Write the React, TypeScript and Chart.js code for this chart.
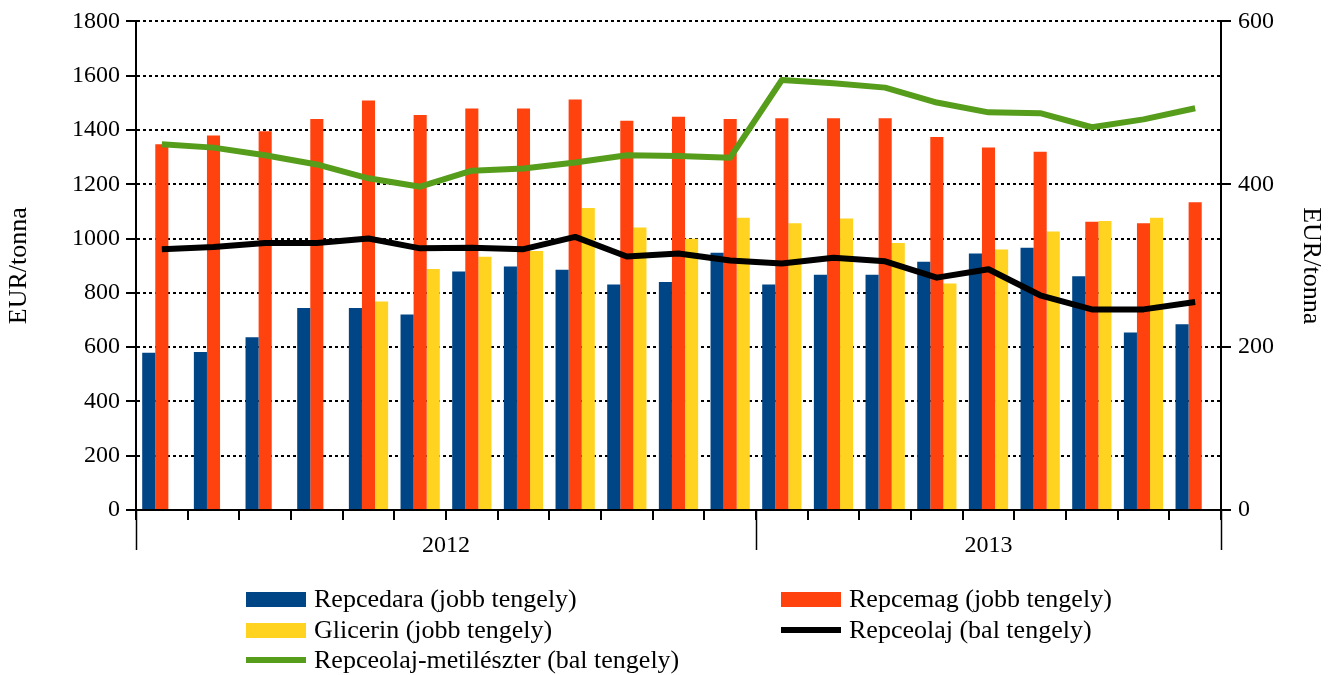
import React, { useEffect, useRef } from 'react';
import { Chart, registerables } from 'chart.js';

Chart.register(...registerables);

const categories = [
  '2012-01', '2012-02', '2012-03', '2012-04', '2012-05', '2012-06',
  '2012-07', '2012-08', '2012-09', '2012-10', '2012-11', '2012-12',
  '2013-01', '2013-02', '2013-03', '2013-04', '2013-05', '2013-06',
  '2013-07', '2013-08', '2013-09',
];
const yearLabels = ['2012', '2013'];
const monthsPerYear = [12, 9];

// right axis (jobb tengely)
const repcedara = [193, 194, 212, 248, 248, 240, 293, 299, 295, 277, 280, 316, 277, 289, 289, 305, 315, 322, 287, 218, 228];
const repcemag = [449, 460, 465, 480, 503, 485, 493, 493, 504, 478, 483, 480, 481, 481, 481, 458, 445, 440, 354, 352, 378];
const glicerin = [null, null, null, null, 256, 296, 311, 318, 371, 347, 333, 359, 352, 358, 328, 278, 320, 342, 355, 359, null];
// left axis (bal tengely)
const repceolaj = [961, 969, 984, 984, 1000, 964, 966, 961, 1006, 934, 945, 919, 908, 929, 916, 856, 887, 791, 739, 739, 766];
const rme = [1347, 1335, 1307, 1273, 1222, 1191, 1250, 1258, 1280, 1307, 1304, 1298, 1584, 1572, 1556, 1501, 1465, 1462, 1410, 1439, 1480];

const leftTicks = { min: 0, max: 1800, step: 200 };
const rightTicks = { min: 0, max: 600, step: 200 };

const FONT = '"Liberation Serif", "Times New Roman", serif';

const legendItems = [
  { label: 'Repcedara (jobb tengely)', color: '#004586', kind: 'box', col: 0, row: 0 },
  { label: 'Repcemag (jobb tengely)', color: '#ff420e', kind: 'box', col: 1, row: 0 },
  { label: 'Glicerin (jobb tengely)', color: '#ffd320', kind: 'box', col: 0, row: 1 },
  { label: 'Repceolaj (bal tengely)', color: '#000000', kind: 'line', col: 1, row: 1 },
  { label: 'Repceolaj-metilészter (bal tengely)', color: '#579d1c', kind: 'line', col: 0, row: 2 },
];

export default function App() {
  const ref = useRef<HTMLCanvasElement>(null);

  useEffect(() => {
    const yearPlugin = {
      id: 'yearLabels',
      afterDraw(chart: any) {
        const x = chart.scales.x;
        const ctx = chart.ctx;
        const area = chart.chartArea;
        const step = x.getPixelForValue(1) - x.getPixelForValue(0);
        const bounds: number[] = [0];
        let acc = 0;
        monthsPerYear.forEach((n) => { acc += n; bounds.push(acc); });
        ctx.save();
        ctx.strokeStyle = '#000';
        ctx.lineWidth = 1.5;
        bounds.forEach((b) => {
          const px = Math.round(x.getPixelForValue(b) - step / 2) + 0.5;
          ctx.beginPath();
          ctx.moveTo(px, area.bottom);
          ctx.lineTo(px, area.bottom + 40);
          ctx.stroke();
        });
        ctx.fillStyle = '#000';
        ctx.font = '24px ' + FONT;
        ctx.textAlign = 'center';
        ctx.textBaseline = 'middle';
        yearLabels.forEach((lab, i) => {
          const l = x.getPixelForValue(bounds[i]) - step / 2;
          const r = x.getPixelForValue(bounds[i + 1]) - step / 2;
          ctx.fillText(lab, (l + r) / 2, area.bottom + 36);
        });
        ctx.restore();
      },
    };

    const fmt = (v: any) => String(v);

    const chart = new Chart(ref.current!, {
      type: 'bar',
      data: {
        labels: categories,
        datasets: [
          { type: 'line', label: 'Repceolaj-metilészter (bal tengely)', data: rme, yAxisID: 'y', borderColor: '#579d1c', borderWidth: 6, pointRadius: 0, tension: 0, order: 0, borderJoinStyle: 'round' } as any,
          { type: 'line', label: 'Repceolaj (bal tengely)', data: repceolaj, yAxisID: 'y', borderColor: '#000000', borderWidth: 6, pointRadius: 0, tension: 0, order: 0, borderJoinStyle: 'round' } as any,
          { type: 'bar', label: 'Repcedara (jobb tengely)', data: repcedara, yAxisID: 'y1', backgroundColor: '#004586', order: 1, barPercentage: 1, categoryPercentage: 0.76 },
          { type: 'bar', label: 'Repcemag (jobb tengely)', data: repcemag, yAxisID: 'y1', backgroundColor: '#ff420e', order: 1, barPercentage: 1, categoryPercentage: 0.76 },
          { type: 'bar', label: 'Glicerin (jobb tengely)', data: glicerin, yAxisID: 'y1', backgroundColor: '#ffd320', order: 1, barPercentage: 1, categoryPercentage: 0.76 },
        ],
      },
      options: {
        animation: false,
        responsive: false,
        devicePixelRatio: 1,
        layout: { padding: { top: 20, left: 0, right: 0, bottom: 0 } },
        plugins: { legend: { display: false }, tooltip: { enabled: false } },
        scales: {
          x: {
            offset: true,
            grid: { offset: true, drawOnChartArea: false, drawTicks: true, tickLength: 10, color: '#000', lineWidth: 2, tickBorderDash: [] },
            border: { display: true, color: '#000', width: 2 },
            ticks: { display: false },
            afterFit: (s: any) => { s.height = 675 - 510; },
          },
          y: {
            position: 'left',
            min: leftTicks.min,
            max: leftTicks.max,
            ticks: { stepSize: leftTicks.step, color: '#000', font: { family: FONT, size: 24 }, padding: 6, callback: fmt },
            grid: { color: '#000', lineWidth: 2, drawTicks: true, tickLength: 10, tickColor: '#000', tickWidth: 2, tickBorderDash: [] },
            border: { display: true, color: '#000', width: 2, dash: [3, 3] },
            title: { display: true, text: 'EUR/tonna', color: '#000', font: { family: FONT, size: 26 }, padding: { top: 4, bottom: 4 } },
            afterFit: (s: any) => { s.width = 136; },
          },
          y1: {
            position: 'right',
            min: rightTicks.min,
            max: rightTicks.max,
            ticks: { stepSize: rightTicks.step, color: '#000', font: { family: FONT, size: 24 }, padding: 7, callback: fmt },
            grid: { drawOnChartArea: false, drawTicks: true, tickLength: 10, color: '#000', lineWidth: 2 },
            border: { display: true, color: '#000', width: 2 },
            title: { display: true, text: 'EUR/tonna', color: '#000', font: { family: FONT, size: 26 }, padding: { top: 4, bottom: 4 } },
            afterFit: (s: any) => { s.width = 1330 - 1221; },
          },
        },
      } as any,
      plugins: [yearPlugin],
    });
    return () => chart.destroy();
  }, []);

  const colLeft = [246, 781];
  const rowCenter = [599, 630, 660];

  return (
    <div style={{ position: 'absolute', left: 0, top: 0, width: 1330, height: 675, background: '#fff', overflow: 'hidden' }}>
      <canvas ref={ref} width={1330} height={675} style={{ position: 'absolute', left: 0, top: 0, width: 1330, height: 675 }} />
      {legendItems.map((it) => (
        <div key={it.label} style={{ position: 'absolute', left: colLeft[it.col], top: rowCenter[it.row] - 16, height: 32, display: 'flex', alignItems: 'center', fontFamily: FONT, fontSize: 26, color: '#000', whiteSpace: 'nowrap' }}>
          <div style={{ width: 60, height: it.kind === 'box' ? 15 : 6, background: it.color, marginRight: 8 }} />
          <span>{it.label}</span>
        </div>
      ))}
    </div>
  );
}
